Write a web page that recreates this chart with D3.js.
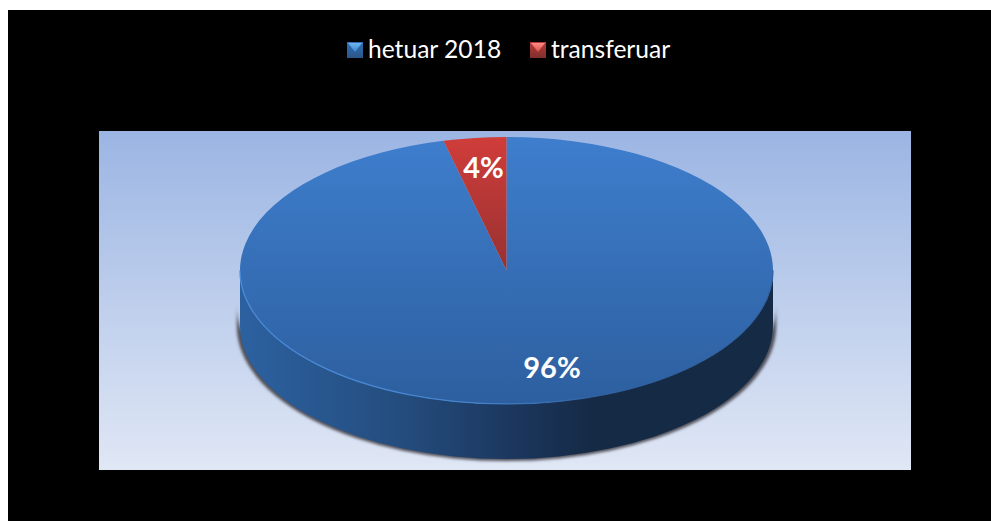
<!DOCTYPE html>
<html>
<head>
<meta charset="utf-8">
<script src="https://cdn.jsdelivr.net/npm/d3@7"></script>
<style>
html, body { margin: 0; padding: 0; background: #fff; }
svg { display: block; }
text { font-family: Lato, "Open Sans", sans-serif; }
</style>
</head>
<body>
<div id="chart"></div>
<script>
var categories = ["hetuar 2018", "transferuar"];
var values = [96.2, 3.8];
var labels = ["96%", "4%"];

var width = 991, height = 521,
    plot = {x: 99, y: 131, w: 812, h: 339},
    cx = 506.5, cy = 270.5, rx = 266.5, ry = 133.5, depth = 55;

var svg = d3.select("#chart").append("svg")
    .attr("width", width)
    .attr("height", height);
var defs = svg.append("defs");

function gradient(id, stops, horizontal) {
    var g = defs.append("linearGradient").attr("id", id)
        .attr("x1", 0).attr("y1", 0)
        .attr("x2", horizontal ? 1 : 0).attr("y2", horizontal ? 0 : 1);
    stops.forEach(function(s) {
        g.append("stop").attr("offset", s[0]).attr("stop-color", s[1]);
    });
}
gradient("plotbg", [[0, "#9bb5e3"], [1, "#e0e7f5"]]);
gradient("blueTop", [[0, "#3e7ecd"], [1, "#2d5f9f"]]);
gradient("redTop", [[0, "#d03d3a"], [1, "#973131"]]);
gradient("side", [[0, "#2c61a0"], [0.3, "#244d7e"], [0.5, "#1c3860"], [0.66, "#152a45"], [1, "#152a45"]], true);
gradient("mBlue", [[0, "#2f6fb5"], [1, "#2b5688"]]);
gradient("mRed", [[0, "#b93a38"], [1, "#7f2f2e"]]);
gradient("mBlueHi", [[0, "#6fb4f0"], [1, "#3c83d0"]]);
gradient("mRedHi", [[0, "#ff8a86"], [1, "#dd4f4b"]]);
gradient("rim", [[0, "#4a8ad8"], [0.42, "#4585d0"], [0.68, "#2e609f"], [1, "#2e609f"]], true);

defs.append("filter").attr("id", "blur")
    .attr("x", "-5%").attr("y", "-5%").attr("width", "110%").attr("height", "110%")
    .append("feGaussianBlur").attr("stdDeviation", 1.5);

// background
svg.append("rect").attr("x", 8).attr("y", 10)
    .attr("width", width - 8).attr("height", height - 10)
    .attr("fill", "#000");
svg.append("rect").attr("x", plot.x).attr("y", plot.y)
    .attr("width", plot.w).attr("height", plot.h)
    .attr("fill", "url(#plotbg)");

// legend
var legendX = [347, 530], legendTextX = [368, 551];
var markerFill = ["url(#mBlue)", "url(#mRed)"], markerHi = ["url(#mBlueHi)", "url(#mRedHi)"];
var legend = svg.append("g").selectAll("g")
    .data(categories)
    .enter()
    .append("g");
legend.append("rect")
    .attr("x", function(d, i) { return legendX[i]; })
    .attr("y", 42)
    .attr("width", 16)
    .attr("height", 16)
    .attr("fill", function(d, i) { return markerFill[i]; });
legend.append("path")
    .attr("d", function(d, i) {
        var x = legendX[i];
        return "M" + (x + 1) + ",43L" + (x + 15) + ",43L" + (x + 8) + ",52Z";
    })
    .attr("fill", function(d, i) { return markerHi[i]; });
legend.append("text")
    .attr("x", function(d, i) { return legendTextX[i]; })
    .attr("y", 57.5)
    .attr("font-size", 24.6)
    .attr("fill", "#fff")
    .text(function(d) { return d; });

// pie
function sidePath(r, oy, h) {
    var x0 = cx - rx * r, x1 = cx + rx * r, y0 = cy + oy;
    return "M" + x0 + "," + y0 +
        "A" + (rx * r) + "," + (ry * r) + " 0 0 0 " + x1 + "," + y0 +
        "L" + x1 + "," + (y0 + h) +
        "A" + (rx * r) + "," + (ry * r) + " 0 0 1 " + x0 + "," + (y0 + h) + "Z";
}
svg.append("path").attr("d", sidePath(1.012, 35, 20.5))
    .attr("fill", "#4f4f58")
    .attr("filter", "url(#blur)");
svg.append("path").attr("d", sidePath(1, 0, depth))
    .attr("fill", "url(#side)");

var pie = d3.pie().sort(null).startAngle(0).endAngle(2 * Math.PI)(values);
var arc = d3.arc().innerRadius(0).outerRadius(rx);
var topFill = ["url(#blueTop)", "url(#redTop)"];

var disc = svg.append("g")
    .attr("transform", "translate(" + cx + "," + cy + ") scale(1," + (ry / rx) + ")");
disc.selectAll("path.slice")
    .data(pie)
    .enter()
    .append("path")
    .attr("class", "slice")
    .attr("d", arc)
    .attr("fill", function(d, i) { return topFill[i]; });

// lit rim on the front left edge of the disc
svg.append("path")
    .attr("d", "M" + (cx - rx) + "," + cy + "A" + rx + "," + ry + " 0 0 0 " + (cx + rx) + "," + cy)
    .attr("fill", "none")
    .attr("stroke", "url(#rim)")
    .attr("stroke-width", 1.3);

// data labels
var labelPos = [[552, 378], [483.5, 178]];
svg.append("g").selectAll("text")
    .data(labels)
    .enter()
    .append("text")
    .attr("x", function(d, i) { return labelPos[i][0]; })
    .attr("y", function(d, i) { return labelPos[i][1]; })
    .attr("text-anchor", "middle")
    .attr("font-size", 29)
    .attr("font-weight", 700)
    .attr("fill", "#fff")
    .text(function(d) { return d; });
</script>
</body>
</html>
